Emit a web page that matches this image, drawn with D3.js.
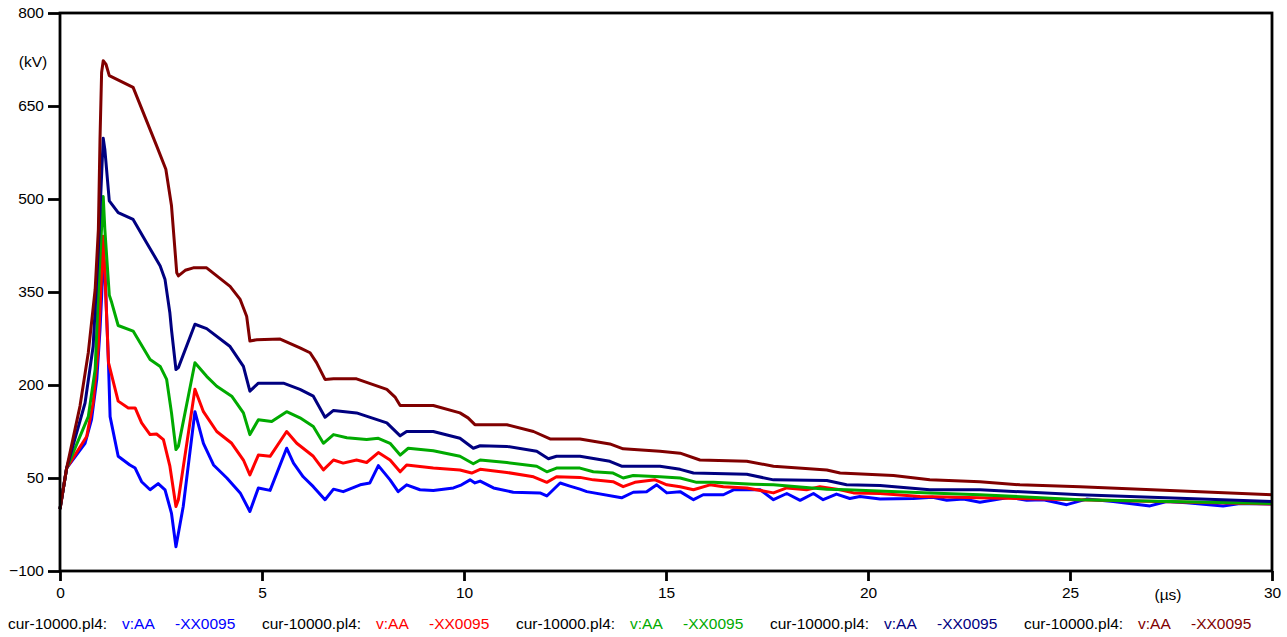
<!DOCTYPE html>
<html>
<head>
<meta charset="utf-8">
<script src="https://cdn.jsdelivr.net/npm/d3@7/dist/d3.min.js"></script>
<style>
  html, body { margin: 0; padding: 0; background: #fff; }
  svg { display: block; }
  text { font-family: "Liberation Sans", Arial, sans-serif; }
</style>
</head>
<body>
<svg id="chart" width="1287" height="637"></svg>
<script>
// Voltage traces, time in µs and voltage in kV
const seriesBlue = [[0,0],[0.165,66],[0.62,106],[0.78,144],[0.91,209],[0.99,289],[1.05,370],[1.08,400],[1.11,386],[1.20,236],[1.24,149],[1.44,85],[1.73,71],[1.86,66],[2.02,44],[2.23,31],[2.43,41],[2.60,31],[2.76,-7],[2.87,-61],[3.05,4],[3.34,157],[3.55,106],[3.80,71],[4.13,50],[4.46,26],[4.70,-4],[4.91,34],[5.20,30],[5.61,98],[5.78,74],[6.02,52],[6.27,36],[6.56,15],[6.77,32],[7.01,28],[7.43,39],[7.67,42],[7.88,70],[8.17,47],[8.37,28],[8.58,39],[8.91,31],[9.24,30],[9.74,34],[9.94,39],[10.15,47],[10.27,42],[10.40,45],[10.73,34],[11.22,27],[11.88,26],[12.05,21],[12.38,42],[12.62,37],[12.87,32],[13.04,28],[13.90,18],[14.19,27],[14.52,28],[14.77,39],[15.02,26],[15.35,28],[15.68,15],[15.92,23],[16.42,23],[16.67,31],[17.33,31],[17.66,15],[17.99,25],[18.32,14],[18.65,25],[18.89,15],[19.22,24],[19.55,17],[19.80,20],[20.3,16],[21.12,17],[21.6,19],[21.95,14],[22.36,16],[22.77,11],[23.51,19],[23.93,14],[24.34,15],[24.92,7],[25.41,16],[26.07,12],[26.98,5],[27.39,12],[27.89,10],[28.79,5],[29.21,9],[30,8]];

const seriesRed = [[0,0],[0.165,66],[0.66,117],[0.82,171],[0.95,262],[1.07,440],[1.10,400],[1.20,236],[1.44,174],[1.69,163],[1.86,163],[2.02,139],[2.23,120],[2.39,121],[2.56,112],[2.72,69],[2.87,4],[2.93,15],[3.34,193],[3.55,157],[3.88,125],[4.25,106],[4.54,79],[4.70,55],[4.91,87],[5.20,85],[5.61,125],[5.86,106],[6.27,85],[6.52,63],[6.77,79],[7.01,74],[7.34,79],[7.59,75],[7.88,91],[8.17,79],[8.42,60],[8.58,71],[9.24,66],[9.90,63],[10.19,58],[10.40,64],[11.06,59],[11.72,52],[12.05,43],[12.29,52],[12.87,51],[13.2,47],[13.69,44],[13.94,36],[14.23,43],[14.73,47],[15.02,39],[15.35,36],[15.68,31],[16.09,39],[16.42,36],[17.0,34],[17.66,26],[17.99,34],[18.48,31],[18.81,36],[19.31,31],[19.64,26],[20.3,25],[21.29,20],[22.77,18],[25.2,15],[30,8]];

const seriesGreen = [[0,0],[0.165,66],[0.70,149],[0.87,225],[0.97,380],[1.07,504],[1.11,451],[1.22,345],[1.28,333],[1.44,296],[1.81,287],[2.23,241],[2.48,230],[2.64,209],[2.76,155],[2.87,96],[2.93,101],[3.34,236],[3.63,214],[3.88,198],[4.25,182],[4.54,155],[4.70,120],[4.91,144],[5.24,141],[5.61,157],[5.94,147],[6.27,133],[6.52,106],[6.77,120],[7.10,115],[7.59,112],[7.88,114],[8.17,106],[8.42,87],[8.62,98],[9.24,94],[9.90,85],[10.23,73],[10.40,79],[11.06,75],[11.80,69],[12.05,60],[12.29,66],[12.87,66],[13.2,60],[13.69,58],[13.94,50],[14.19,54],[14.85,52],[15.35,50],[15.76,43],[16.17,43],[17.16,40],[17.66,39],[18.98,32],[19.47,31],[21.53,26],[22.77,23],[25.25,15],[30,9]];

const seriesNavy = [[0,0],[0.165,66],[0.62,171],[0.82,262],[0.95,420],[1.07,598],[1.11,580],[1.22,497],[1.44,478],[1.81,467],[2.14,430],[2.48,392],[2.60,370],[2.72,316],[2.76,289],[2.87,225],[2.93,228],[3.34,298],[3.63,291],[4.21,262],[4.54,230],[4.70,190],[4.91,203],[5.53,203],[5.94,193],[6.27,182],[6.56,148],[6.77,159],[7.34,155],[8.09,139],[8.42,118],[8.58,125],[9.24,125],[9.90,114],[10.23,98],[10.40,102],[11.06,101],[11.80,93],[12.09,81],[12.29,85],[12.87,85],[13.61,77],[13.90,69],[14.85,69],[15.35,64],[15.68,58],[17.0,56],[17.66,47],[18.98,46],[19.47,39],[20.3,38],[21.53,31],[22.77,31],[25.25,23],[30,12]];

const seriesMaroon = [[0,0],[0.165,66],[0.495,166],[0.70,252],[0.87,354],[0.95,451],[0.99,596],[1.03,704],[1.07,723],[1.14,717],[1.22,699],[1.81,680],[2.39,586],[2.62,548],[2.76,489],[2.89,381],[2.93,376],[3.1,385],[3.3,389],[3.63,389],[4.21,359],[4.46,338],[4.62,311],[4.70,271],[4.87,273],[5.45,274],[5.94,260],[6.19,252],[6.35,236],[6.56,209],[6.77,210],[7.34,210],[8.09,193],[8.3,180],[8.42,167],[9.24,167],[9.90,155],[10.1,147],[10.27,136],[11.06,136],[11.72,125],[12.13,113],[12.87,113],[13.61,105],[13.94,97],[14.85,93],[15.35,90],[15.84,79],[17.0,77],[17.66,69],[18.98,63],[19.31,58],[20.63,54],[21.53,47],[22.77,44],[23.76,39],[25.25,36],[30,23]];

const xTicks = [0, 5, 10, 15, 20, 25, 30];
const yTicks = [-100, 50, 200, 350, 500, 650, 800];
const legendFile = "cur-10000.pl4:";
const legendFrom = "v:AA";
const legendTo = "-XX0095";

const traces = [
  { data: seriesBlue,   color: "#0000ff" },
  { data: seriesRed,    color: "#ff0000" },
  { data: seriesGreen,  color: "#00aa00" },
  { data: seriesNavy,   color: "#000080" },
  { data: seriesMaroon, color: "#800000" }
];

const svg = d3.select("#chart");
const plotLeft = 60, plotRight = 1272, plotTop = 13, plotBottom = 571;
const fontSize = 15.5;

const x = d3.scaleLinear().domain([0, 30]).range([plotLeft, plotRight]);
const y = d3.scaleLinear().domain([-100, 800]).range([plotBottom, plotTop]);

// traces
const line = d3.line().x(d => x(d[0])).y(d => y(d[1]));
svg.append("g")
  .selectAll("path")
  .data(traces)
  .join("path")
  .attr("d", d => line(d.data))
  .attr("fill", "none")
  .attr("stroke", d => d.color)
  .attr("stroke-width", 3)
  .attr("stroke-linejoin", "round");

// frame
svg.append("rect")
  .attr("x", plotLeft).attr("y", plotTop)
  .attr("width", plotRight - plotLeft).attr("height", plotBottom - plotTop)
  .attr("fill", "none").attr("stroke", "#000").attr("stroke-width", 2.8);

// y axis
const yAxis = d3.axisLeft(y).tickValues(yTicks).tickSize(12).tickPadding(4).tickFormat(d3.format("d"));
const gy = svg.append("g").attr("transform", `translate(${plotLeft},0)`).call(yAxis);
gy.select(".domain").remove();
gy.selectAll(".tick line").attr("stroke", "#000").attr("stroke-width", 2.8);
gy.selectAll(".tick text").attr("font-size", fontSize).attr("fill", "#000")
  .attr("font-family", "Liberation Sans, Arial, sans-serif");

// x axis
const xAxis = d3.axisBottom(x).tickValues(xTicks).tickSize(10).tickPadding(6).tickFormat(d3.format("d"));
const gx = svg.append("g").attr("transform", `translate(0,${plotBottom})`).call(xAxis);
gx.select(".domain").remove();
gx.selectAll(".tick line").attr("stroke", "#000").attr("stroke-width", 2.8);
gx.selectAll(".tick text").attr("font-size", fontSize).attr("fill", "#000")
  .attr("font-family", "Liberation Sans, Arial, sans-serif");

// unit labels
svg.append("text").attr("x", 33).attr("y", 67).attr("text-anchor", "middle")
  .attr("font-size", fontSize).text("(kV)");
svg.append("text").attr("x", 1168).attr("y", 600).attr("text-anchor", "middle")
  .attr("font-size", fontSize).text("(µs)");

// legend
const legend = svg.append("g");
traces.forEach((t, i) => {
  const gx0 = 8 + i * 254;
  const g = legend.append("g").attr("transform", `translate(${gx0},629)`);
  g.append("text").attr("x", 0).attr("font-size", fontSize).attr("fill", "#000").text(legendFile);
  g.append("text").attr("x", 114).attr("font-size", fontSize).attr("fill", t.color).text(legendFrom);
  g.append("text").attr("x", 167).attr("font-size", fontSize).attr("fill", t.color).text(legendTo);
});
</script>
</body>
</html>
